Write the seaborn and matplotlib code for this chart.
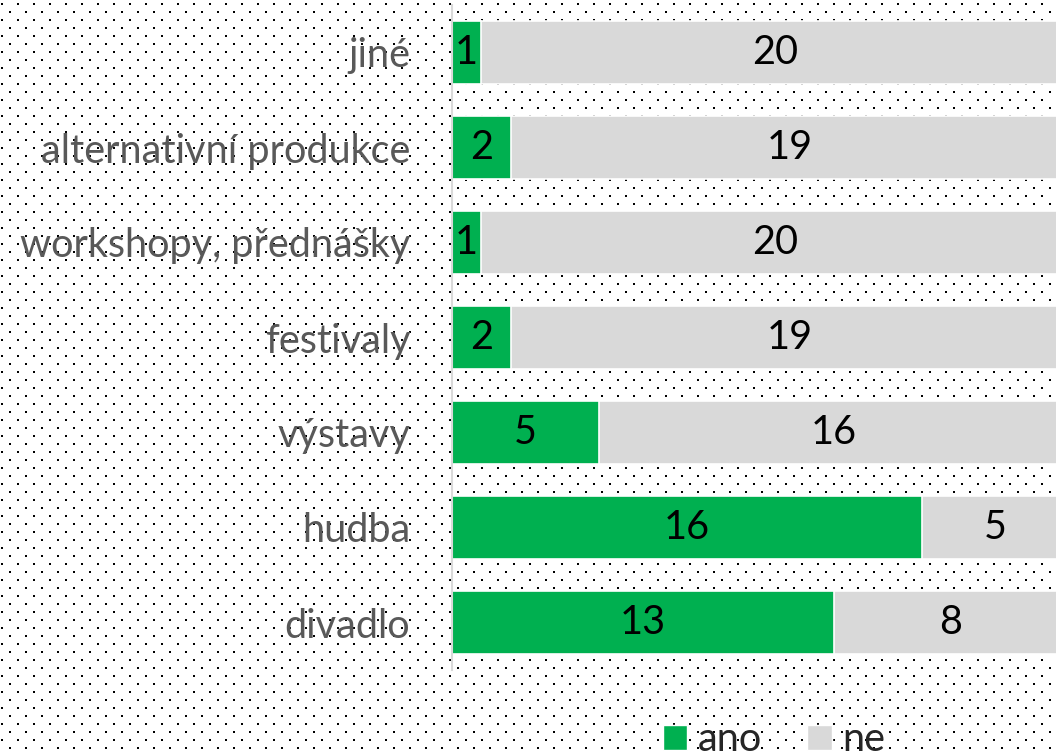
import numpy as np
import matplotlib
matplotlib.use("Agg")
import matplotlib.pyplot as plt
from matplotlib.patches import Patch
import seaborn as sns

# ── Data (top to bottom) ──────────────────────────────────────────────────────
categories = ["jiné", "alternativní produkce", "workshopy, přednášky",
              "festivaly", "výstavy", "hudba", "divadlo"]
ano = [1, 2, 1, 2, 5, 16, 13]
ne = [20, 19, 20, 19, 16, 5, 8]
series_labels = ["ano", "ne"]

GREEN = "#00B050"
GREY = "#D9D9D9"
LABEL_GREY = "#595959"
FONT = "Lato"
FS = 28.5

sns.set_theme(style="white")
plt.rcParams["font.family"] = [FONT, "DejaVu Sans"]

W, H = 1056, 752
fig = plt.figure(figsize=(W / 100, H / 100), dpi=100)

# ── Dotted background ─────────────────────────────────────────────────────────
bg = np.ones((H, W))
for r0, c0 in [(3, 1), (11, 9)]:
    for dr in range(2):
        for dc in range(2):
            bg[r0 + dr::16, c0 + dc::16] = 0.0
ax_bg = fig.add_axes([0, 0, 1, 1], zorder=-1)
ax_bg.imshow(bg, cmap="gray", vmin=0, vmax=1, interpolation="nearest", aspect="auto")
ax_bg.axis("off")

# ── Stacked bars ──────────────────────────────────────────────────────────────
left, top, bottom = 452, 5, 670
unit = 29.35
ax = fig.add_axes([left / W, 1 - bottom / H, unit * 21 / W, (bottom - top) / H])
ax.patch.set_alpha(0)

total = [a + n for a, n in zip(ano, ne)]
sns.barplot(x=total, y=categories, orient="h", color=GREY, saturation=1,
            width=0.67, edgecolor="white", linewidth=1.2, ax=ax)
sns.barplot(x=ano, y=categories, orient="h", color=GREEN, saturation=1,
            width=0.67, edgecolor="white", linewidth=1.2, ax=ax)

for i, (a, n) in enumerate(zip(ano, ne)):
    ax.text(a / 2, i, str(a), ha="center", va="center", fontsize=FS, color="black")
    ax.text(a + n / 2, i, str(n), ha="center", va="center", fontsize=FS, color="black")

ax.set_xlim(0, 21)
ax.set_ylim(6.5, -0.5)
ax.set_xlabel("")
ax.set_ylabel("")
ax.set_xticks([])
for s in ["top", "right", "bottom"]:
    ax.spines[s].set_visible(False)
ax.spines["left"].set_color(GREY)
ax.spines["left"].set_linewidth(1.5)
ax.tick_params(axis="y", length=0, pad=30, labelsize=FS, labelcolor=LABEL_GREY)

# ── Legend ────────────────────────────────────────────────────────────────────
handles = [Patch(facecolor=GREEN), Patch(facecolor=GREY)]
fig.legend(handles, series_labels, loc="lower center", bbox_to_anchor=(0.733, -0.056),
           ncol=2, frameon=False, fontsize=FS, handlelength=0.62, handleheight=0.62,
           handletextpad=0.26, columnspacing=1.15)

fig.savefig("out.png", dpi=100)
